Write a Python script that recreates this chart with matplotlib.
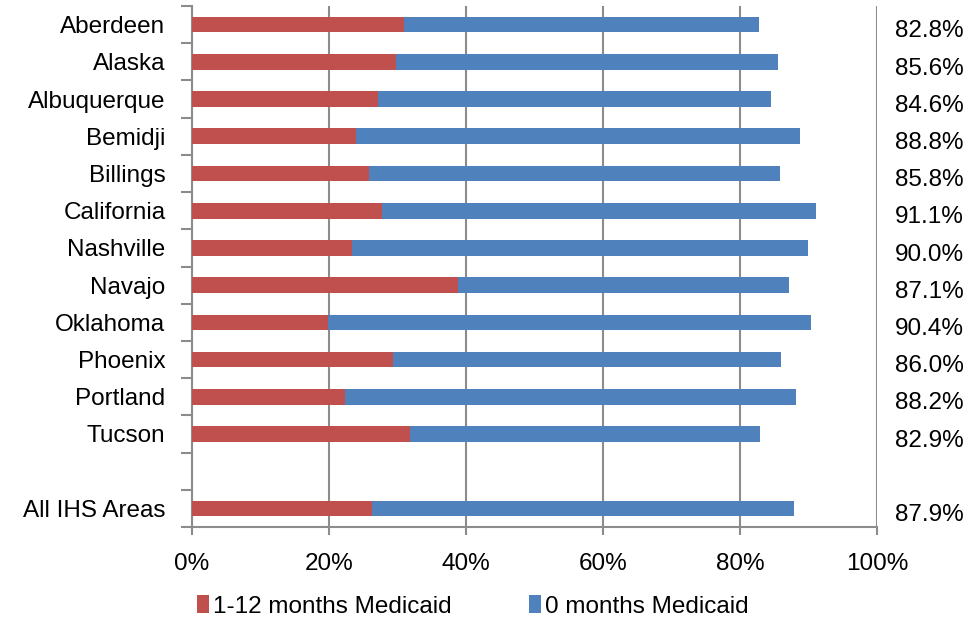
import matplotlib
matplotlib.use("Agg")
import matplotlib.pyplot as plt
from matplotlib.ticker import FuncFormatter, FixedLocator
import matplotlib.transforms as mtransforms

plt.rcParams["font.family"] = ["Liberation Sans", "DejaVu Sans"]

areas = ["Aberdeen", "Alaska", "Albuquerque", "Bemidji", "Billings", "California",
         "Nashville", "Navajo", "Oklahoma", "Phoenix", "Portland", "Tucson",
         "All IHS Areas"]
some_medicaid = [30.9, 29.8, 27.1, 23.9, 25.9, 27.7, 23.3, 38.8, 19.9, 29.4, 22.4, 31.8, 26.3]
totals = [82.8, 85.6, 84.6, 88.8, 85.8, 91.1, 90.0, 87.1, 90.4, 86.0, 88.2, 82.9, 87.9]
no_medicaid = [t - s for t, s in zip(totals, some_medicaid)]
total_labels = ["%.1f%%" % t for t in totals]

RED = "#C0504D"
BLUE = "#4F81BD"
GRID = "#8C8C8C"
FS = 17.5

# positions: 12 areas, one empty slot, then the overall row
pos = list(range(12)) + [13]

fig = plt.figure(figsize=(9.74, 6.24), dpi=100)
ax = fig.add_axes([0.197, 0.1554, 0.7034, 0.835])

h = 0.42
ax.barh(pos, some_medicaid, height=h, color=RED, label="1-12 months Medicaid", zorder=3)
ax.barh(pos, no_medicaid, left=some_medicaid, height=h, color=BLUE,
        label="0 months Medicaid", zorder=3)

ax.set_xlim(0, 100)
ax.set_ylim(13.5, -0.5)
ax.set_xticks([0, 20, 40, 60, 80, 100])
ax.xaxis.set_major_formatter(FuncFormatter(lambda v, p: "%d%%" % v))
ax.grid(axis="x", color=GRID, linewidth=1.5, zorder=0)

ax.set_yticks(pos)
ax.set_yticklabels(areas)
ax.yaxis.set_minor_locator(FixedLocator([i - 0.5 for i in range(15)]))
ax.tick_params(axis="y", which="major", length=0, pad=19, labelsize=FS)
ax.tick_params(axis="y", which="minor", length=8, width=1.5, color=GRID)
ax.tick_params(axis="x", length=6, width=1.5, color=GRID, pad=13, labelsize=FS)

for side in ["top", "right"]:
    ax.spines[side].set_visible(False)
for side in ["left", "bottom"]:
    ax.spines[side].set_color(GRID)
    ax.spines[side].set_linewidth(1.5)

trans = mtransforms.blended_transform_factory(ax.transAxes, ax.transData)
for p, lab in zip(pos, total_labels):
    ax.text(1.077, p + 0.18, lab, transform=trans, ha="center", va="center", fontsize=FS)

ax.legend(loc="center", bbox_to_anchor=(0.41, -0.152), ncol=2, frameon=False,
          fontsize=FS, handlelength=0.5, handleheight=0.8, handletextpad=0.15,
          columnspacing=3.2)

plt.savefig("out.png", dpi=100)
plt.close()
